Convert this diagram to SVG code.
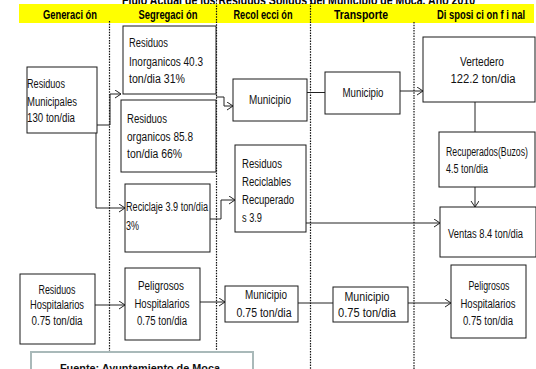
<svg xmlns="http://www.w3.org/2000/svg" width="536" height="369" viewBox="0 0 536 369">
  <style>
    .bg { fill: #ffffff; }
    .band { fill: #ffff00; }
    .box { fill: #ffffff; stroke: #1a1a1a; stroke-width: 1; }
    .lane { fill: none; stroke: #111111; stroke-width: 1.2; stroke-dasharray: 1.5 1.2; }
    .conn { fill: none; stroke: #222222; stroke-width: 1; }
    .t { font-family: "Liberation Sans", Arial, sans-serif; font-size: 12px; fill: #111111; }
    .c { text-anchor: middle; }
    .h { font-family: "Liberation Sans", Arial, sans-serif; font-size: 12px; font-weight: bold; fill: #000000; text-anchor: middle; }
    .title { font-family: "Liberation Sans", Arial, sans-serif; font-size: 14px; font-weight: bold; fill: #000000; }
    .src { fill: #ffffff; stroke: #a9b9b9; stroke-width: 2; }
    .srct { font-family: "Liberation Sans", Arial, sans-serif; font-size: 11px; font-weight: bold; fill: #111111; }
  </style>
  <defs>
    <marker id="arrow" markerUnits="userSpaceOnUse" markerWidth="8" markerHeight="10" refX="6.5" refY="4" orient="auto">
      <path d="M0.5,0 L6.5,4 L0.5,8" fill="none" stroke="#222222" stroke-width="1"/>
    </marker>
  </defs>

  <rect class="bg" x="0" y="0" width="536" height="369"/>

  <!-- title (partly above the top edge) -->
  <text class="title" x="122" y="5" textLength="353" lengthAdjust="spacingAndGlyphs">Flujo Actual de los Residuos Solidos del Municipio de Moca. Año 2010</text>

  <!-- header band -->
  <g id="header">
    <rect class="band" x="19" y="4" width="515" height="19"/>
    <text class="h" x="70" y="19" textLength="54" lengthAdjust="spacingAndGlyphs">Generaci ón</text>
    <text class="h" x="168" y="19" textLength="59" lengthAdjust="spacingAndGlyphs">Segregaci ón</text>
    <text class="h" x="263" y="19" textLength="59" lengthAdjust="spacingAndGlyphs">Recol ecci ón</text>
    <text class="h" x="361" y="19" textLength="54" lengthAdjust="spacingAndGlyphs">Transporte</text>
    <text class="h" x="481" y="19" textLength="88" lengthAdjust="spacingAndGlyphs">Di sposi ci on f i nal</text>
  </g>

  <!-- lane separators -->
  <g id="lanes">
    <line class="lane" x1="109.5" y1="21" x2="109.5" y2="352"/>
    <line class="lane" x1="216.5" y1="0" x2="216.5" y2="352"/>
    <line class="lane" x1="310.5" y1="0" x2="310.5" y2="369"/>
    <line class="lane" x1="414" y1="22" x2="414" y2="369"/>
  </g>

  <!-- connectors -->
  <g id="connectors">
    <path class="conn" d="M97,125 H110 V94 H121" marker-end="url(#arrow)"/>
    <path class="conn" d="M96,133 V208 H125" marker-end="url(#arrow)"/>
    <path class="conn" d="M216,97 H224 V106 H233" marker-end="url(#arrow)"/>
    <path class="conn" d="M210,219 H221 V200 H235" marker-end="url(#arrow)"/>
    <path class="conn" d="M307,92.5 H325"/>
    <path class="conn" d="M400,91 H423" marker-end="url(#arrow)"/>
    <path class="conn" d="M475,102 V132"/>
    <path class="conn" d="M475,187 V207" marker-end="url(#arrow)"/>
    <path class="conn" d="M306,223 H440" marker-end="url(#arrow)"/>
    <path class="conn" d="M95,305 H125" marker-end="url(#arrow)"/>
    <path class="conn" d="M200,302 H225" marker-end="url(#arrow)"/>
    <path class="conn" d="M298,303 H333"/>
    <path class="conn" d="M408,303 H451" marker-end="url(#arrow)"/>
  </g>

  <!-- generation -->
  <g id="residuos-municipales">
    <rect class="box" x="27" y="67" width="70" height="66"/>
    <text class="t" x="27" y="88" textLength="38" lengthAdjust="spacingAndGlyphs">Residuos</text>
    <text class="t" x="27" y="106" textLength="50" lengthAdjust="spacingAndGlyphs">Municipales</text>
    <text class="t" x="27" y="122" textLength="48" lengthAdjust="spacingAndGlyphs">130 ton/dia</text>
  </g>
  <g id="residuos-hospitalarios">
    <rect class="box" x="20" y="274" width="75" height="70"/>
    <text class="t c" x="57" y="294" textLength="37" lengthAdjust="spacingAndGlyphs">Residuos</text>
    <text class="t c" x="57" y="309" textLength="54" lengthAdjust="spacingAndGlyphs">Hospitalarios</text>
    <text class="t c" x="57" y="325" textLength="51" lengthAdjust="spacingAndGlyphs">0.75 ton/dia</text>
  </g>

  <!-- segregation -->
  <g id="inorganicos">
    <rect class="box" x="123" y="26" width="93" height="68"/>
    <text class="t" x="129" y="47" textLength="39" lengthAdjust="spacingAndGlyphs">Residuos</text>
    <text class="t" x="129" y="66" textLength="74" lengthAdjust="spacingAndGlyphs">Inorganicos  40.3</text>
    <text class="t" x="129" y="83" textLength="56" lengthAdjust="spacingAndGlyphs">ton/dia  31%</text>
  </g>
  <g id="organicos">
    <rect class="box" x="121" y="100" width="95" height="72"/>
    <text class="t" x="127" y="123" textLength="40" lengthAdjust="spacingAndGlyphs">Residuos</text>
    <text class="t" x="127" y="141" textLength="66" lengthAdjust="spacingAndGlyphs">organicos  85.8</text>
    <text class="t" x="127" y="158" textLength="55" lengthAdjust="spacingAndGlyphs">ton/dia 66%</text>
  </g>
  <g id="reciclaje">
    <rect class="box" x="125" y="184" width="85" height="68"/>
    <text class="t" x="126" y="211" textLength="82" lengthAdjust="spacingAndGlyphs">Reciclaje 3.9 ton/dia</text>
    <text class="t" x="126" y="230" textLength="13" lengthAdjust="spacingAndGlyphs">3%</text>
  </g>
  <g id="peligrosos-segregacion">
    <rect class="box" x="125" y="268" width="75" height="72"/>
    <text class="t c" x="161" y="290" textLength="46" lengthAdjust="spacingAndGlyphs">Peligrosos</text>
    <text class="t c" x="162" y="308" textLength="55" lengthAdjust="spacingAndGlyphs">Hospitalarios</text>
    <text class="t c" x="162" y="325" textLength="50" lengthAdjust="spacingAndGlyphs">0.75 ton/dia</text>
  </g>

  <!-- collection -->
  <g id="municipio-recoleccion">
    <rect class="box" x="233" y="79" width="74" height="42"/>
    <text class="t c" x="270" y="104" textLength="42" lengthAdjust="spacingAndGlyphs">Municipio</text>
  </g>
  <g id="reciclables-recuperados">
    <rect class="box" x="235" y="145" width="71" height="87"/>
    <text class="t" x="242" y="168" textLength="40" lengthAdjust="spacingAndGlyphs">Residuos</text>
    <text class="t" x="242" y="186" textLength="49" lengthAdjust="spacingAndGlyphs">Reciclables</text>
    <text class="t" x="242" y="204" textLength="52" lengthAdjust="spacingAndGlyphs">Recuperado</text>
    <text class="t" x="242" y="222" textLength="20" lengthAdjust="spacingAndGlyphs">s 3.9</text>
  </g>
  <g id="municipio-recoleccion-hosp">
    <rect class="box" x="225" y="286" width="73" height="36"/>
    <text class="t c" x="266" y="299" textLength="42" lengthAdjust="spacingAndGlyphs">Municipio</text>
    <text class="t c" x="264" y="317" textLength="55" lengthAdjust="spacingAndGlyphs">0.75 ton/dia</text>
  </g>

  <!-- transport -->
  <g id="municipio-transporte">
    <rect class="box" x="325" y="72" width="75" height="42"/>
    <text class="t c" x="363" y="97" textLength="41" lengthAdjust="spacingAndGlyphs">Municipio</text>
  </g>
  <g id="municipio-transporte-hosp">
    <rect class="box" x="333" y="287" width="75" height="35"/>
    <text class="t c" x="367" y="301" textLength="45" lengthAdjust="spacingAndGlyphs">Municipio</text>
    <text class="t c" x="367" y="317" textLength="58" lengthAdjust="spacingAndGlyphs">0.75 ton/dia</text>
  </g>

  <!-- final disposal -->
  <g id="vertedero">
    <rect class="box" x="423" y="37" width="112" height="65"/>
    <text class="t c" x="482" y="66" textLength="44" lengthAdjust="spacingAndGlyphs">Vertedero</text>
    <text class="t c" x="483" y="83" textLength="65" lengthAdjust="spacingAndGlyphs">122.2 ton/dia</text>
  </g>
  <g id="recuperados-buzos">
    <rect class="box" x="439" y="132" width="96" height="55"/>
    <text class="t" x="446" y="156" textLength="82" lengthAdjust="spacingAndGlyphs">Recuperados(Buzos)</text>
    <text class="t" x="446" y="173" textLength="42" lengthAdjust="spacingAndGlyphs">4.5 ton/dia</text>
  </g>
  <g id="ventas">
    <rect class="box" x="440" y="207" width="96" height="50"/>
    <text class="t" x="448" y="238" textLength="75" lengthAdjust="spacingAndGlyphs">Ventas 8.4 ton/dia</text>
  </g>
  <g id="peligrosos-disposicion">
    <rect class="box" x="451" y="265" width="75" height="73"/>
    <text class="t c" x="489" y="290" textLength="41" lengthAdjust="spacingAndGlyphs">Peligrosos</text>
    <text class="t c" x="488" y="308" textLength="55" lengthAdjust="spacingAndGlyphs">Hospitalarios</text>
    <text class="t c" x="488" y="325" textLength="50" lengthAdjust="spacingAndGlyphs">0.75 ton/dia</text>
  </g>

  <!-- source note (runs past the bottom edge) -->
  <g id="fuente">
    <rect class="src" x="31" y="352" width="222" height="24"/>
    <text class="srct" x="60" y="372" textLength="160" lengthAdjust="spacingAndGlyphs">Fuente: Ayuntamiento de Moca</text>
  </g>
</svg>
